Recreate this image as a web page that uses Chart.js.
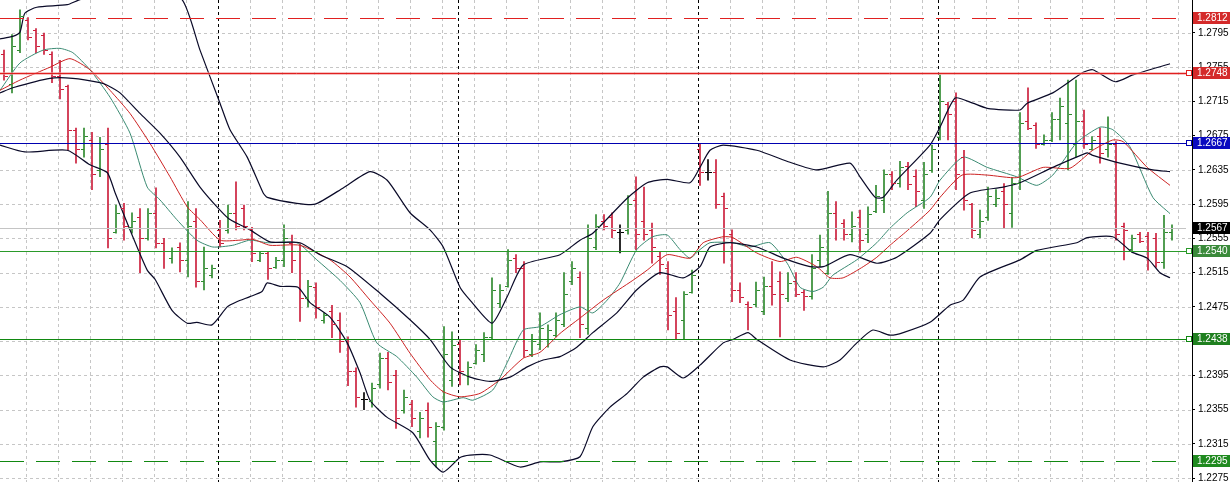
<!DOCTYPE html>
<html>
<head>
<meta charset="utf-8">
<script src="https://cdn.jsdelivr.net/npm/chart.js@4"></script>
<style>
  html, body { margin: 0; padding: 0; background: #fff; overflow: hidden; }
  canvas { display: block; }
</style>
</head>
<body>
<canvas id="chart" width="1230" height="482"></canvas>
<script>
// ---- price bars (one per bar index) ----
const opens = [1.2770,1.2735,1.2775,1.2810,1.2798,1.2793,1.2770,1.2745,1.2733,1.2682,1.2660,1.2670,1.2635,1.2665,1.2562,1.2590,1.2568,1.2580,1.2556,1.2585,
  1.2550,1.2532,1.2545,1.2530,1.2575,1.2505,1.2512,1.2565,1.2565,1.2585,1.2590,1.2566,1.2530,1.2538,1.2522,1.2530,1.2550,1.2540,1.2485,1.2498,
  1.2460,1.2470,1.2460,1.2437,1.2400,1.2367,1.2365,1.2385,1.2415,1.2395,1.2355,1.2362,1.2330,1.2355,1.2318,1.2335,1.2390,1.2432,1.2395,1.2410,
  1.2420,1.2440,1.2480,1.2500,1.2532,1.2520,1.2420,1.2432,1.2438,1.2442,1.2455,1.2505,1.2510,1.2450,1.2545,1.2575,1.2580,1.2562,1.2565,1.2600,
  1.2575,1.2565,1.2535,1.2520,1.2470,1.2460,1.2493,1.2660,1.2633,1.2633,1.2605,1.2560,1.2495,1.2478,1.2478,1.2470,1.2500,1.2505,1.2485,1.2505,
  1.2492,1.2488,1.2530,1.2515,1.2585,1.2573,1.2560,1.2580,1.2560,1.2587,1.2600,1.2630,1.2620,1.2640,1.2628,1.2600,1.2635,1.2673,1.2712,1.2715,
  1.2650,1.2595,1.2560,1.2580,1.2595,1.2610,1.2585,1.2620,1.2692,1.2688,1.2665,1.2670,1.2695,1.2690,1.2665,1.2692,1.2660,1.2675,1.2660,1.2665,
  1.2570,1.2543,1.2560,1.2558,1.2555,1.2528,1.2562];
const highs = [1.2775,1.2793,1.2822,1.2813,1.2800,1.2795,1.2773,1.2763,1.2734,1.2684,1.2684,1.2679,1.2673,1.2684,1.2594,1.2596,1.2585,1.2590,1.2590,1.2614,
  1.2555,1.2544,1.2550,1.2598,1.2590,1.2545,1.2524,1.2576,1.2594,1.2621,1.2594,1.2568,1.2540,1.2540,1.2533,1.2571,1.2559,1.2549,1.2506,1.2503,
  1.2468,1.2477,1.2468,1.2440,1.2404,1.2375,1.2386,1.2421,1.2422,1.2401,1.2378,1.2366,1.2352,1.2363,1.2340,1.2452,1.2446,1.2437,1.2411,1.2431,
  1.2445,1.2509,1.2501,1.2542,1.2536,1.2528,1.2443,1.2468,1.2454,1.2468,1.2515,1.2528,1.2516,1.2571,1.2583,1.2583,1.2585,1.2571,1.2605,1.2627,
  1.2615,1.2573,1.2539,1.2528,1.2486,1.2493,1.2518,1.2666,1.2647,1.2647,1.2608,1.2565,1.2503,1.2481,1.2504,1.2510,1.2528,1.2516,1.2515,1.2515,
  1.2495,1.2536,1.2559,1.2610,1.2598,1.2577,1.2586,1.2588,1.2592,1.2617,1.2635,1.2633,1.2645,1.2644,1.2635,1.2644,1.2664,1.2746,1.2714,1.2725,
  1.2658,1.2596,1.2588,1.2615,1.2612,1.2619,1.2626,1.2702,1.2731,1.2690,1.2676,1.2702,1.2719,1.2740,1.2740,1.2705,1.2674,1.2684,1.2697,1.2668,
  1.2573,1.2559,1.2562,1.2562,1.2561,1.2582,1.2571];
const lows = [1.2740,1.2725,1.2772,1.2787,1.2772,1.2770,1.2737,1.2718,1.2658,1.2643,1.2650,1.2612,1.2627,1.2544,1.2561,1.2553,1.2561,1.2515,1.2553,1.2544,
  1.2520,1.2526,1.2516,1.2510,1.2498,1.2495,1.2509,1.2545,1.2561,1.2565,1.2565,1.2528,1.2528,1.2507,1.2520,1.2522,1.2515,1.2458,1.2475,1.2462,
  1.2456,1.2439,1.2422,1.2383,1.2358,1.2355,1.2358,1.2380,1.2378,1.2333,1.2351,1.2335,1.2322,1.2323,1.2288,1.2331,1.2382,1.2384,1.2384,1.2408,
  1.2411,1.2437,1.2474,1.2498,1.2515,1.2416,1.2417,1.2425,1.2428,1.2440,1.2452,1.2501,1.2439,1.2443,1.2542,1.2565,1.2556,1.2538,1.2560,1.2542,
  1.2553,1.2526,1.2513,1.2448,1.2437,1.2437,1.2491,1.2617,1.2623,1.2590,1.2526,1.2481,1.2480,1.2448,1.2475,1.2466,1.2477,1.2440,1.2481,1.2487,
  1.2471,1.2484,1.2522,1.2513,1.2553,1.2553,1.2551,1.2539,1.2550,1.2585,1.2585,1.2612,1.2615,1.2612,1.2592,1.2590,1.2632,1.2670,1.2670,1.2612,
  1.2588,1.2556,1.2556,1.2576,1.2592,1.2567,1.2568,1.2612,1.2682,1.2660,1.2664,1.2668,1.2670,1.2635,1.2650,1.2660,1.2658,1.2643,1.2650,1.2553,
  1.2530,1.2539,1.2550,1.2518,1.2521,1.2520,1.2553];
const closes = [1.2745,1.2780,1.2815,1.2790,1.2780,1.2775,1.2745,1.2730,1.2682,1.2660,1.2675,1.2630,1.2660,1.2556,1.2585,1.2570,1.2575,1.2555,1.2585,1.2550,
  1.2540,1.2540,1.2530,1.2570,1.2505,1.2520,1.2520,1.2550,1.2585,1.2570,1.2570,1.2538,1.2538,1.2520,1.2530,1.2555,1.2530,1.2485,1.2500,1.2475,
  1.2466,1.2455,1.2435,1.2400,1.2370,1.2367,1.2380,1.2415,1.2387,1.2345,1.2370,1.2345,1.2345,1.2335,1.2336,1.2420,1.2430,1.2400,1.2405,1.2425,
  1.2440,1.2495,1.2495,1.2530,1.2520,1.2425,1.2435,1.2450,1.2448,1.2460,1.2490,1.2520,1.2455,1.2555,1.2570,1.2570,1.2565,1.2562,1.2595,1.2560,
  1.2560,1.2545,1.2525,1.2465,1.2445,1.2490,1.2512,1.2633,1.2633,1.2595,1.2590,1.2495,1.2487,1.2475,1.2495,1.2500,1.2490,1.2490,1.2503,1.2490,
  1.2488,1.2520,1.2545,1.2585,1.2567,1.2560,1.2570,1.2553,1.2583,1.2605,1.2630,1.2620,1.2638,1.2618,1.2610,1.2630,1.2660,1.2715,1.2700,1.2630,
  1.2600,1.2565,1.2575,1.2605,1.2602,1.2595,1.2620,1.2690,1.2684,1.2665,1.2670,1.2695,1.2710,1.2700,1.2692,1.2665,1.2670,1.2655,1.2665,1.2560,
  1.2565,1.2555,1.2552,1.2540,1.2528,1.2562,1.2567];

// ---- indicator lines, read as [bar index, price] ----
const upperBand = [[-0.5,1.2788],[1.1,1.2791],[2,1.2796],[2.6,1.2818],[4.1,1.2825],[7.9,1.2828],[9.5,1.2834],[14,1.2842],[18,1.2845],[22.25,1.2834],
  [24.5,1.2775],[27,1.2713],[28.25,1.2682],[30.4,1.2650],[32.4,1.2608],[32.9,1.2603],[36.6,1.2596],[38.9,1.2595],[42.4,1.2614],[45.75,1.2633],
  [47.9,1.2623],[50.75,1.2585],[53.25,1.2565],[54.9,1.2545],[57,1.2498],[58.25,1.2483],[61,1.2456],[62.9,1.2487],[64.9,1.2524],[69.5,1.2536],
  [72,1.2553],[73.6,1.2561],[77.9,1.2602],[80.4,1.2620],[82.9,1.2624],[85.75,1.2620],[87,1.2638],[88.25,1.2658],[89.9,1.2664],[94.1,1.2658],
  [98.25,1.2644],[101.6,1.2635],[105.75,1.2643],[107,1.2627],[108.9,1.2603],[109.9,1.2603],[111.6,1.2623],[115.75,1.2664],[117,1.2685],[118.9,1.2719],
  [121.1,1.2713],[122.9,1.2707],[127,1.2705],[127.9,1.2713],[131.1,1.2725],[134.9,1.2749],[136.1,1.2752],[138.9,1.2738],[141.1,1.2746],[145.75,1.2759]];
const middleBand = [[-0.5,1.2725],[1.1,1.2731],[5.75,1.2742],[8.6,1.2742],[12,1.2737],[12.9,1.2734],[14.5,1.2725],[17,1.2701],[19.5,1.2678],[22,1.2650],
  [24.5,1.2615],[27,1.2588],[28.25,1.2577],[30.75,1.2565],[33.25,1.2551],[37,1.2550],[39.5,1.2536],[42.9,1.2522],[47,1.2491],[50.75,1.2460],
  [53.25,1.2437],[55.75,1.2405],[58.25,1.2393],[60.75,1.2388],[63.25,1.2393],[65.4,1.2405],[67.4,1.2413],[69.5,1.2417],[71.6,1.2428],[73.6,1.2445],
  [76.6,1.2468],[79.1,1.2495],[82,1.2515],[84.9,1.2509],[87,1.2522],[88.25,1.2545],[90.75,1.2550],[94.1,1.2545],[97.4,1.2532],[100.75,1.2522],
  [102.4,1.2522],[105.75,1.2536],[109.1,1.2526],[111.6,1.2533],[115.75,1.2561],[117,1.2577],[120.75,1.2608],[124.9,1.2615],[127,1.2620],[131.1,1.2638],
  [135.4,1.2655],[136.1,1.2652],[139.5,1.2643],[143.6,1.2635],[145.75,1.2633]];
const lowerBand = [[-0.5,1.2664],[2.6,1.2656],[7.9,1.2658],[10.75,1.2641],[12.9,1.2632],[13.9,1.2608],[16.1,1.2557],[17.9,1.2518],[18.9,1.2507],[21,1.2471],
  [22.9,1.2456],[24.1,1.2457],[26,1.2454],[27.9,1.2475],[29.1,1.2481],[30.75,1.2487],[32.25,1.2493],[32.9,1.2503],[34.5,1.2499],[36.75,1.2498],
  [38.25,1.2480],[40.75,1.2463],[42.9,1.2433],[44.5,1.2398],[45.75,1.2366],[47.9,1.2346],[51.1,1.2328],[53.25,1.2296],[54.9,1.2282],[57,1.2299],
  [58.25,1.2302],[60.75,1.2302],[64.5,1.2288],[67,1.2294],[69.5,1.2294],[72,1.2300],[73.6,1.2335],[75.75,1.2358],[77.9,1.2374],[79.9,1.2393],
  [82,1.2405],[82.9,1.2405],[84.9,1.2392],[87,1.2407],[89.9,1.2433],[91.1,1.2437],[93,1.2445],[94.1,1.2437],[98.25,1.2413],[102.4,1.2405],
  [104.5,1.2413],[106.6,1.2433],[108.6,1.2448],[110.75,1.2442],[112.4,1.2445],[115.75,1.2457],[118.25,1.2477],[119.9,1.2483],[122,1.2510],[127,1.2530],
  [129.1,1.2541],[134.1,1.2550],[135.4,1.2556],[138.6,1.2557],[141,1.2539],[142.9,1.2532],[144.5,1.2515],[145.75,1.2509]];
const slowMA = [[-0.5,1.2728],[2,1.2740],[5.75,1.2755],[8.25,1.2765],[10.75,1.2752],[13.25,1.2728],[15.75,1.2701],[18.25,1.2666],[20.75,1.2627],[22.9,1.2592],
  [24.5,1.2577],[27,1.2553],[29.5,1.2553],[31.1,1.2554],[33.25,1.2547],[37,1.2547],[40.75,1.2530],[43.25,1.2510],[45.75,1.2483],[48.25,1.2456],
  [50.75,1.2421],[53.25,1.2390],[54.9,1.2376],[57,1.2370],[59.5,1.2374],[62,1.2390],[64.9,1.2415],[67,1.2422],[69.5,1.2444],[72,1.2462],
  [74.9,1.2483],[78.6,1.2506],[80.4,1.2518],[82.9,1.2536],[85.75,1.2532],[87.4,1.2550],[89.9,1.2557],[91.1,1.2556],[94.1,1.2538],[97,1.2528],
  [99.1,1.2533],[101.6,1.2522],[103.25,1.2509],[104.9,1.2509],[107.4,1.2522],[109.1,1.2533],[110.75,1.2547],[112.9,1.2564],[115.75,1.2588],[117,1.2603],
  [119.75,1.2629],[122.9,1.2629],[126.6,1.2626],[129.9,1.2638],[133.25,1.2637],[136.1,1.2658],[138.6,1.2670],[139.9,1.2668],[142.9,1.2638],[145.75,1.2617]];
const fastMA = [[-0.5,1.2728],[2,1.2760],[4.9,1.2775],[7,1.2777],[8.6,1.2772],[10.75,1.2752],[13.25,1.2720],[15.75,1.2678],[17.9,1.2615],[19.5,1.2600],
  [21.6,1.2577],[24.1,1.2553],[26.1,1.2545],[28.6,1.2547],[30.75,1.2553],[32.9,1.2550],[36.6,1.2550],[39.1,1.2530],[42,1.2506],[44.5,1.2480],
  [46.6,1.2433],[49.1,1.2417],[51.6,1.2393],[53.6,1.2370],[54.9,1.2364],[57.4,1.2369],[58.6,1.2366],[61.1,1.2378],[62.9,1.2410],[64.9,1.2448],
  [67,1.2452],[69.5,1.2466],[72,1.2475],[73.6,1.2468],[75.4,1.2483],[77,1.2503],[79.1,1.2542],[81.1,1.2557],[82.9,1.2559],[84.5,1.2542],
  [85.75,1.2532],[87,1.2542],[88.25,1.2550],[91.1,1.2550],[93.25,1.2545],[95.75,1.2550],[97.9,1.2526],[99.5,1.2498],[101.1,1.2493],[102.4,1.2498],
  [103.6,1.2512],[106.6,1.2530],[109.1,1.2550],[110.75,1.2567],[112.9,1.2585],[115.75,1.2603],[117,1.2623],[119.9,1.2650],[122.9,1.2638],[126.6,1.2627],
  [129.1,1.2617],[131.1,1.2629],[134.1,1.2667],[137,1.2685],[138.6,1.2682],[140.75,1.2662],[143.6,1.2603],[145.75,1.2584]];

// ---- axis ticks, grid, levels ----
const yTicks = [1.2275,1.2315,1.2355,1.2395,1.2435,1.2475,1.2515,1.2555,1.2595,1.2635,1.2675,1.2715,1.2755,1.2795,1.2835];
const gridCols = [2.75,6.75,10.75,14.75,18.75,22.75,26.75,30.75,34.75,38.75,42.75,46.75,50.75,54.75,58.75,62.75,66.75,70.75,74.75,
  78.75,82.75,86.75,90.75,94.75,98.75,102.75,106.75,110.75,114.75,118.75,122.75,126.75,130.75,134.75,138.75,142.75,146.75];
const sessionCols = [26.75,56.75,86.75,116.75];
const levelPrices = [1.2812,1.2748,1.2667,1.2567,1.2540,1.2438,1.2295];
const levelColors = ["#d42a2a","#d42a2a","#0a0ac0","#000000","#3a8a3a","#1f801f","#1f8a1f"];
const levelLines  = ["#e02020","#e02020","#0000b0","#c4c4c4","#2a9a2a","#118811","#118811"];
const levelDash   = [[24,12],[],[],[],[],[],[24,12]];

const UP = "#2f8a2f", DOWN = "#cc1f3c", FLAT = "#000000";
const barColor = (i) => closes[i] > opens[i] ? UP : closes[i] < opens[i] ? DOWN : FLAT;
const FONT = "'Liberation Sans', Arial, sans-serif";

const chartPlugin = {
  id: "terminal",
  beforeDatasetsDraw(chart) {
    const { ctx, chartArea: a, scales: { x, y } } = chart;
    ctx.save();
    ctx.lineWidth = 1;
    ctx.strokeStyle = "#c6c6c6";
    ctx.setLineDash([3, 3]);
    yTicks.forEach((t) => {
      const py = Math.round(y.getPixelForValue(t)) + 0.5;
      ctx.beginPath(); ctx.moveTo(a.left, py); ctx.lineTo(a.right, py); ctx.stroke();
    });
    gridCols.forEach((c) => {
      const px = Math.round(x.getPixelForValue(c)) + 0.5;
      ctx.beginPath(); ctx.moveTo(px, a.top); ctx.lineTo(px, a.bottom); ctx.stroke();
    });
    ctx.strokeStyle = "#000";
    sessionCols.forEach((c) => {
      const px = Math.round(x.getPixelForValue(c)) + 0.5;
      ctx.beginPath(); ctx.moveTo(px, a.top); ctx.lineTo(px, a.bottom); ctx.stroke();
    });
    ctx.restore();
  },
  afterDatasetsDraw(chart) {
    const { ctx, chartArea: a, scales: { x, y } } = chart;
    ctx.save();
    // open / close ticks
    ctx.lineWidth = 1;
    opens.forEach((o, i) => {
      const px = Math.round(x.getPixelForValue(i));
      ctx.strokeStyle = barColor(i);
      const yo = Math.round(y.getPixelForValue(o)) + 0.5;
      const yc = Math.round(y.getPixelForValue(closes[i])) + 0.5;
      ctx.beginPath(); ctx.moveTo(px - 3, yo); ctx.lineTo(px, yo); ctx.stroke();
      ctx.beginPath(); ctx.moveTo(px + 1, yc); ctx.lineTo(px + 4, yc); ctx.stroke();
    });
    // horizontal levels
    levelPrices.forEach((p, i) => {
      const py = Math.round(y.getPixelForValue(p)) + 0.5;
      if (p === 1.2748) {
        ctx.strokeStyle = "rgba(240,150,150,0.6)";
        ctx.lineWidth = 3;
        ctx.setLineDash([]);
        ctx.beginPath(); ctx.moveTo(a.left, py); ctx.lineTo(a.right, py); ctx.stroke();
      }
      ctx.strokeStyle = levelLines[i];
      ctx.lineWidth = 1;
      ctx.setLineDash(levelDash[i]);
      ctx.beginPath(); ctx.moveTo(a.left, py); ctx.lineTo(a.right - 6, py); ctx.stroke();
    });
    ctx.restore();
  },
  afterDraw(chart) {
    const { ctx, chartArea: a, scales: { y } } = chart;
    ctx.save();
    ctx.font = "10px " + FONT;
    ctx.textBaseline = "middle";
    levelPrices.forEach((p, i) => {
      const py = Math.round(y.getPixelForValue(p));
      if (i !== 0 && i !== 6 && i !== 3) {
        ctx.fillStyle = "#fff";
        ctx.strokeStyle = levelLines[i];
        ctx.lineWidth = 1;
        ctx.fillRect(a.right - 6, py - 2, 5, 5);
        ctx.strokeRect(a.right - 5.5, py - 2.5, 5, 5);
      }
      ctx.fillStyle = levelColors[i];
      ctx.fillRect(a.right + 1, py - 6, chart.width - a.right - 1, 12);
      ctx.fillStyle = "#fff";
      ctx.fillText(p.toFixed(4), a.right + 5, py + 0.5);
    });
    ctx.restore();
  }
};

const lineSet = (pts, color, width) => ({
  type: "line",
  data: pts.map(([xv, yv]) => ({ x: xv, y: yv })),
  borderColor: color,
  borderWidth: width,
  pointRadius: 0,
  tension: 0.2,
  order: 1
});

new Chart(document.getElementById("chart"), {
  type: "bar",
  data: {
    datasets: [
      {
        data: highs.map((h, i) => ({ x: i, y: [lows[i], h] })),
        backgroundColor: highs.map((h, i) => barColor(i)),
        barThickness: 1,
        grouped: false,
        order: 2
      },
      lineSet(upperBand, "#0a0a28", 1.2),
      lineSet(middleBand, "#0a0a28", 1.2),
      lineSet(lowerBand, "#0a0a28", 1.2),
      lineSet(slowMA, "#cc2222", 1),
      lineSet(fastMA, "#3a8a72", 1)
    ]
  },
  options: {
    responsive: false,
    devicePixelRatio: 1,
    animation: false,
    layout: { padding: 0 },
    plugins: { legend: { display: false }, tooltip: { enabled: false } },
    scales: {
      x: { type: "linear", min: -0.5, max: 148.5, display: false, offset: false },
      y: {
        position: "right",
        min: 1.22705,
        max: 1.28335,
        afterBuildTicks: (s) => { s.ticks = yTicks.filter((v) => v <= 1.28335).map((v) => ({ value: v })); },
        afterFit: (s) => { s.width = 38; s.paddingTop = 0; s.paddingBottom = 0; },
        grid: { drawOnChartArea: false, color: "#000", tickLength: 3 },
        border: { color: "#000" },
        ticks: {
          color: "#000",
          padding: 3,
          font: { family: FONT, size: 10 },
          callback: (v) => Number(v).toFixed(4)
        }
      }
    }
  },
  plugins: [chartPlugin]
});
</script>
</body>
</html>
